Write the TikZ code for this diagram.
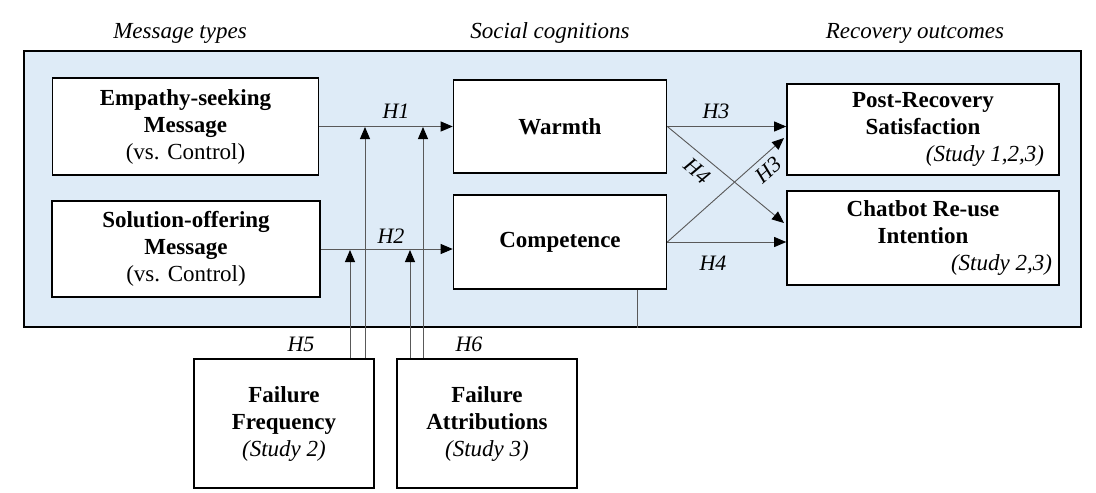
\documentclass[tikz,border=0pt]{standalone}
\usepackage{fontspec}
\setmainfont{Liberation Serif}
\usetikzlibrary{arrows.meta}
\definecolor{panelblue}{HTML}{DEEBF7}
\definecolor{linegray}{HTML}{595959}

\begin{document}
\begin{tikzpicture}[x=1pt, y=-1pt,
		box/.style={draw, line width=1.6pt, fill=white, align=center, inner sep=0pt,
			font=\fontsize{23}{27}\selectfont},
		path/.style={draw=linegray, line width=0.9pt, -{Triangle[length=12pt, width=10pt, black]}},
		hyp/.style={font=\fontsize{22}{26}\selectfont\itshape, inner sep=0pt},
		head/.style={font=\fontsize{23}{27}\selectfont\itshape, anchor=base}]
	\useasboundingbox (0,0) rectangle (1096,493);

	% column headings
	\node[head] (hmsg) at (180,38) {Message types};
	\node[head] (hsoc) at (550,38) {Social cognitions};
	\node[head] (hrec) at (915,38) {Recovery outcomes};

	\node[draw, line width=1.6pt, fill=panelblue, inner sep=0pt,
		minimum width=1057pt, minimum height=276pt] (frame) at (552.5,189) {};

	\node[box, minimum width=266pt, minimum height=97pt] (emp) at (185.5,126.5)
		{\textbf{Empathy-seeking}\\\textbf{Message}\\(vs. Control)};
	\node[box, minimum width=268pt, minimum height=96pt] (sol) at (186,249)
		{\textbf{Solution-offering}\\\textbf{Message}\\(vs. Control)};

	\node[box, minimum width=213pt, minimum height=93pt] (warm) at (560,126.5) {\textbf{Warmth}};
	\node[box, minimum width=213pt, minimum height=94pt] (comp) at (560,242) {\textbf{Competence}};

	\node[box, minimum width=272pt, minimum height=91pt] (post) at (923,129.5)
		{\textbf{Post-Recovery}\\\textbf{Satisfaction}\\\hspace*{124pt}\textit{(Study 1,2,3)}};
	\node[box, minimum width=272pt, minimum height=94pt] (chat) at (923,238)
		{\textbf{Chatbot Re-use}\\\textbf{Intention}\\\hspace*{157pt}\textit{(Study 2,3)}};

	\node[box, minimum width=180pt, minimum height=129pt] (ffreq) at (284,423.5)
		{\textbf{Failure}\\\textbf{Frequency}\\\textit{(Study 2)}};
	\node[box, minimum width=180pt, minimum height=129pt] (fattr) at (487,423.5)
		{\textbf{Failure}\\\textbf{Attributions}\\\textit{(Study 3)}};

	% main effects
	\draw[path] (emp.east) -- (emp.east -| warm.west);
	\draw[path] (sol.east) -- (sol.east -| comp.west);
	\node[hyp] (h1) at (396,111) {H1};
	\node[hyp] (h2) at (391,236) {H2};

	% moderators
	\coordinate (h5w) at (365,127);
	\coordinate (h5c) at (350,250);
	\coordinate (h6w) at (423,127);
	\coordinate (h6c) at (410,250);
	\draw[path] (ffreq.north -| h5w) -- (h5w);
	\draw[path] (ffreq.north -| h5c) -- (h5c);
	\draw[path] (fattr.north -| h6w) -- (h6w);
	\draw[path] (fattr.north -| h6c) -- (h6c);
	\node[hyp] (h5) at (301,344) {H5};
	\node[hyp] (h6) at (469,344) {H6};

	% outcomes
	\coordinate (h4end) at (784,223);
	\coordinate (h3end) at (784,138);
	\draw[path] (warm.east) -- (warm.east -| post.west);
	\draw[path] (warm.east) -- (h4end);
	\draw[path] (comp.east) -- (h3end);
	\draw[path] (comp.east) -- (comp.east -| chat.west);
	\node[hyp] (h3a) at (716,111) {H3};
	\node[hyp, rotate=-40] (h4a) at (697,171) {H4};
	\node[hyp, rotate=41] (h3b) at (768,170) {H3};
	\node[hyp] (h4b) at (713,263) {H4};

	\draw[linegray, line width=0.9pt] (comp.south -| 637,0) -- (frame.south -| 637,0);
\end{tikzpicture}
\end{document}
